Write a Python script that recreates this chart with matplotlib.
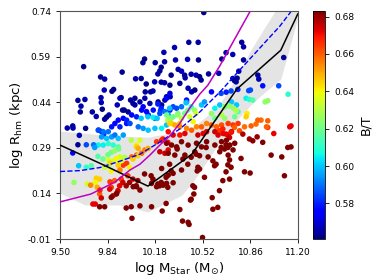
import matplotlib
matplotlib.use('Agg')
import matplotlib.pyplot as plt
import numpy as np

# ---- galaxy sample: (log Mstar, log Rhm, B/T) ----
navy = [
    (9.669, 0.557), (9.944, 0.539), (9.790, 0.523), (9.819, 0.516), (10.040, 0.517), (9.816, 0.480),
    (9.871, 0.476), (9.883, 0.482), (9.628, 0.446), (9.678, 0.449), (9.793, 0.455), (9.795, 0.439),
    (9.937, 0.455), (10.004, 0.447), (10.035, 0.453), (10.021, 0.436), (9.650, 0.427), (9.909, 0.431),
    (9.802, 0.417), (9.645, 0.408), (9.731, 0.408), (9.947, 0.414), (9.759, 0.393), (9.850, 0.398),
    (9.833, 0.391), (9.819, 0.384), (9.591, 0.362), (9.552, 0.355), (9.593, 0.355), (9.638, 0.331),
    (9.683, 0.354), (9.628, 0.300),
    (10.420, 0.637), (10.487, 0.637), (10.318, 0.620), (10.242, 0.604), (10.104, 0.582), (10.092, 0.570),
    (10.180, 0.570), (10.247, 0.573), (10.325, 0.579), (10.411, 0.581), (10.489, 0.579), (10.223, 0.555),
    (10.213, 0.543), (10.199, 0.533), (10.344, 0.548), (10.368, 0.542), (10.294, 0.529), (10.080, 0.518),
    (10.390, 0.529), (10.394, 0.520), (10.437, 0.532), (10.472, 0.529), (10.497, 0.524), (10.508, 0.513),
    (10.561, 0.533), (10.223, 0.506), (10.247, 0.504), (10.176, 0.507), (10.285, 0.496), (10.116, 0.500),
    (10.109, 0.474), (10.147, 0.474), (10.164, 0.477), (10.287, 0.458), (10.527, 0.735), (10.356, 0.502),
    (10.798, 0.637), (10.811, 0.622), (10.686, 0.603), (10.734, 0.597), (10.656, 0.582), (10.811, 0.579),
    (11.098, 0.587), (10.777, 0.542), (10.634, 0.535), (10.734, 0.518), (10.746, 0.511), (10.765, 0.519),
    (10.758, 0.507), (10.913, 0.529), (10.920, 0.516),
    (9.928, 0.453), (9.959, 0.414), (9.987, 0.408), (10.035, 0.431), (10.071, 0.441), (10.106, 0.453),
    (10.142, 0.436), (10.201, 0.441), (10.226, 0.431), (10.249, 0.447), (10.261, 0.458), (10.415, 0.486),
    (10.440, 0.474), (10.463, 0.480),
]
navy_bt = [0.562, 0.563, 0.564, 0.565, 0.566, 0.567]

blue = [
    (10.094, 0.425, 0.574), (10.166, 0.414, 0.578), (10.130, 0.398, 0.578), (9.916, 0.381, 0.576),
    (9.952, 0.387, 0.574), (9.976, 0.370, 0.578), (9.892, 0.370, 0.576), (9.869, 0.359, 0.578),
    (9.928, 0.359, 0.580), (9.776, 0.348, 0.578), (9.795, 0.344, 0.580), (9.812, 0.335, 0.582),
    (9.591, 0.273, 0.575), (10.285, 0.469, 0.572), (10.261, 0.453, 0.574), (10.404, 0.447, 0.575),
    (10.582, 0.474, 0.575), (10.308, 0.425, 0.585), (10.333, 0.420, 0.585), (10.285, 0.414, 0.580),
    (10.948, 0.494, 0.578), (11.062, 0.494, 0.585), (10.848, 0.478, 0.585), (10.860, 0.480, 0.585),
    (10.770, 0.482, 0.580), (10.722, 0.477, 0.585), (10.687, 0.473, 0.580), (10.651, 0.469, 0.585),
    (10.118, 0.409, 0.575), (10.083, 0.414, 0.575), (10.012, 0.398, 0.575), (10.047, 0.392, 0.580),
    (9.976, 0.381, 0.580), (10.368, 0.425, 0.590), (10.404, 0.441, 0.585), (10.199, 0.434, 0.580),
    (10.223, 0.420, 0.580), (10.218, 0.412, 0.582),
]

cyan_green = [
    (10.178, 0.387, 0.590), (10.213, 0.403, 0.585), (10.249, 0.409, 0.590), (10.273, 0.398, 0.595),
    (10.000, 0.370, 0.585), (10.059, 0.359, 0.590), (10.094, 0.354, 0.595), (10.130, 0.348, 0.600),
    (10.178, 0.354, 0.600), (10.226, 0.354, 0.605), (10.261, 0.365, 0.600), (9.773, 0.348, 0.585),
    (9.809, 0.343, 0.590), (9.845, 0.343, 0.590), (9.797, 0.326, 0.595), (9.833, 0.321, 0.600),
    (9.869, 0.326, 0.595), (9.892, 0.332, 0.590), (9.916, 0.321, 0.600), (9.952, 0.332, 0.595),
    (9.773, 0.299, 0.605), (9.809, 0.299, 0.605), (9.845, 0.304, 0.610), (9.880, 0.299, 0.610),
    (9.916, 0.293, 0.615), (9.633, 0.231, 0.600), (9.688, 0.300, 0.585), (9.740, 0.300, 0.590),
    (9.748, 0.291, 0.595), (10.080, 0.387, 0.600), (10.128, 0.392, 0.600), (10.164, 0.390, 0.605),
    (10.194, 0.387, 0.600), (10.283, 0.420, 0.600), (10.401, 0.438, 0.600), (10.437, 0.425, 0.610),
    (10.294, 0.387, 0.620), (10.461, 0.414, 0.625), (10.390, 0.403, 0.620), (10.342, 0.403, 0.620),
    (10.270, 0.381, 0.630), (10.413, 0.414, 0.620), (10.472, 0.403, 0.635), (10.511, 0.431, 0.600),
    (10.532, 0.441, 0.595), (10.606, 0.420, 0.605), (10.641, 0.431, 0.600), (10.677, 0.425, 0.605),
    (10.725, 0.441, 0.600), (10.761, 0.431, 0.600), (10.261, 0.398, 0.620), (10.285, 0.387, 0.625),
    (10.308, 0.392, 0.620), (10.342, 0.398, 0.625), (10.368, 0.387, 0.630), (10.427, 0.392, 0.635),
    (10.451, 0.376, 0.640), (10.582, 0.403, 0.625), (10.606, 0.387, 0.620), (10.654, 0.398, 0.630),
    (10.677, 0.387, 0.625), (10.748, 0.392, 0.620), (10.772, 0.409, 0.615), (10.829, 0.453, 0.605),
    (10.853, 0.449, 0.610), (10.877, 0.447, 0.615), (10.965, 0.441, 0.625), (10.984, 0.445, 0.625),
    (11.129, 0.466, 0.610), (10.675, 0.425, 0.625), (10.711, 0.427, 0.625), (10.741, 0.420, 0.625),
    (10.758, 0.412, 0.630), (9.771, 0.262, 0.615), (9.807, 0.253, 0.620), (9.842, 0.267, 0.620),
    (9.866, 0.275, 0.620), (9.890, 0.280, 0.625), (9.919, 0.286, 0.620), (9.688, 0.226, 0.610),
    (9.723, 0.231, 0.615), (9.600, 0.176, 0.625), (10.009, 0.315, 0.630), (10.071, 0.315, 0.635),
    (9.845, 0.250, 0.635), (9.869, 0.244, 0.635), (9.892, 0.250, 0.635),
]

yellow_orange = [
    (10.283, 0.370, 0.645), (10.354, 0.370, 0.645), (10.297, 0.370, 0.645), (10.320, 0.365, 0.650),
    (10.356, 0.359, 0.655), (10.404, 0.354, 0.655), (10.440, 0.348, 0.660), (10.475, 0.359, 0.655),
    (10.511, 0.359, 0.660), (10.547, 0.370, 0.655), (10.582, 0.365, 0.660), (10.618, 0.359, 0.660),
    (10.654, 0.365, 0.662), (10.701, 0.370, 0.665), (10.736, 0.365, 0.665), (10.772, 0.370, 0.665),
    (10.047, 0.299, 0.640), (9.928, 0.260, 0.635), (9.905, 0.255, 0.640), (10.047, 0.293, 0.645),
    (10.059, 0.288, 0.650), (10.106, 0.283, 0.655), (10.130, 0.288, 0.650), (10.012, 0.260, 0.660),
    (10.047, 0.266, 0.660), (10.083, 0.272, 0.658), (9.952, 0.233, 0.665), (9.976, 0.239, 0.665),
    (10.190, 0.310, 0.665), (10.226, 0.315, 0.668), (9.821, 0.228, 0.650), (9.857, 0.239, 0.645),
    (9.695, 0.171, 0.635), (9.759, 0.190, 0.645), (9.783, 0.187, 0.645), (9.752, 0.176, 0.640),
    (9.766, 0.160, 0.650), (9.819, 0.226, 0.635), (9.842, 0.231, 0.630), (9.866, 0.214, 0.640),
    (9.926, 0.214, 0.645), (9.937, 0.247, 0.635), (9.962, 0.259, 0.630), (9.997, 0.226, 0.640),
    (10.021, 0.253, 0.645), (10.056, 0.264, 0.645), (9.719, 0.167, 0.655), (9.783, 0.138, 0.660),
    (9.866, 0.160, 0.665), (9.890, 0.182, 0.660), (9.937, 0.187, 0.665), (9.985, 0.198, 0.665),
    (9.916, 0.233, 0.645), (9.928, 0.217, 0.655), (10.235, 0.319, 0.668), (10.746, 0.357, 0.660),
    (10.782, 0.346, 0.662), (10.818, 0.359, 0.658), (10.865, 0.362, 0.660), (10.900, 0.368, 0.658),
    (10.984, 0.357, 0.665), (10.836, 0.403, 0.642), (10.829, 0.392, 0.645), (10.936, 0.381, 0.658),
    (10.913, 0.381, 0.660), (10.984, 0.379, 0.660), (10.975, 0.359, 0.660), (10.639, 0.346, 0.665),
    (10.663, 0.352, 0.668),
]

red = [
    (10.273, 0.343, 0.670), (10.308, 0.332, 0.672), (10.356, 0.332, 0.670), (10.392, 0.337, 0.672),
    (10.485, 0.332, 0.675), (10.522, 0.337, 0.672), (10.547, 0.343, 0.672), (10.606, 0.343, 0.675),
    (10.629, 0.332, 0.673), (10.665, 0.337, 0.672), (10.701, 0.332, 0.675), (10.725, 0.343, 0.674),
    (10.213, 0.277, 0.675), (10.249, 0.272, 0.675), (10.273, 0.283, 0.672), (10.270, 0.308, 0.670),
    (9.735, 0.105, 0.672), (9.752, 0.105, 0.672), (9.795, 0.125, 0.675), (9.855, 0.154, 0.672),
    (9.878, 0.132, 0.678), (9.902, 0.138, 0.680), (9.914, 0.149, 0.675), (9.926, 0.165, 0.672),
    (9.949, 0.176, 0.675), (9.973, 0.165, 0.680), (9.997, 0.176, 0.680), (10.021, 0.187, 0.675),
    (10.044, 0.165, 0.683), (10.056, 0.182, 0.680), (9.785, 0.151, 0.668), (9.857, 0.178, 0.665),
    (10.686, 0.335, 0.672), (10.711, 0.324, 0.675), (10.722, 0.341, 0.670), (11.027, 0.337, 0.672),
    (11.150, 0.362, 0.672), (11.141, 0.359, 0.672), (10.806, 0.335, 0.678), (10.853, 0.319, 0.680),
    (10.877, 0.313, 0.682), (10.908, 0.326, 0.680), (10.948, 0.308, 0.683),
]

maroon = [
    (10.261, 0.305), (10.297, 0.299), (10.333, 0.293), (10.368, 0.310), (10.415, 0.299), (10.475, 0.305),
    (10.511, 0.293), (10.547, 0.310), (10.606, 0.299), (10.654, 0.310), (10.689, 0.315), (10.713, 0.299),
    (10.748, 0.305), (10.273, 0.272), (10.320, 0.266), (10.392, 0.266), (10.463, 0.277), (10.558, 0.260),
    (10.641, 0.277), (10.701, 0.266), (10.736, 0.283), (10.226, 0.222),
    (9.783, 0.096), (9.819, 0.096), (9.973, 0.092), (10.009, 0.096), (10.014, 0.058), (9.866, 0.127),
    (9.905, 0.140), (10.023, 0.162), (10.047, 0.162), (10.071, 0.151), (10.154, 0.173), (10.190, 0.162),
    (10.237, 0.167), (10.261, 0.173), (10.308, 0.175), (10.273, 0.200), (10.308, 0.206), (10.368, 0.217),
    (10.154, 0.096), (10.230, 0.082), (10.356, 0.087), (10.375, 0.049), (10.415, 0.045),
    (10.104, 0.204), (10.151, 0.198), (10.164, 0.187), (10.199, 0.171), (10.223, 0.176), (10.211, 0.165),
    (10.283, 0.236), (10.294, 0.214), (10.258, 0.193), (10.270, 0.160), (10.337, 0.286), (10.378, 0.253),
    (10.413, 0.236), (10.437, 0.259), (10.472, 0.269), (10.497, 0.264), (10.485, 0.226), (10.497, 0.220),
    (10.480, 0.214), (10.532, 0.193), (10.544, 0.291), (10.592, 0.247), (10.604, 0.231), (10.615, 0.236),
    (10.449, 0.165), (10.461, 0.160), (10.456, 0.138), (10.437, 0.121), (10.258, 0.107), (10.071, 0.099),
    (10.422, 0.038), (10.592, 0.088), (10.627, 0.094), (10.518, -0.005),
    (10.651, 0.291), (10.675, 0.286), (10.699, 0.291), (10.686, 0.300), (10.793, 0.255), (10.711, 0.250),
    (10.699, 0.234), (10.722, 0.226), (10.686, 0.211), (10.663, 0.182), (10.711, 0.187), (10.818, 0.211),
    (10.858, 0.207), (11.008, 0.266), (11.084, 0.260), (11.127, 0.291), (11.150, 0.293), (11.103, 0.198),
    (10.639, 0.149), (10.587, 0.126), (10.432, 0.118),
]
maroon_bt = 0.686

# ---- running median and spread ----
med_x = [9.50, 9.814, 10.128, 10.442, 10.763, 11.077, 11.198]
med_y = [0.299, 0.233, 0.164, 0.269, 0.483, 0.611, 0.730]

band_x = [9.50, 9.678, 9.814, 9.928, 10.128, 10.370, 10.449, 10.627, 10.763, 10.863, 10.963, 11.077, 11.198]
band_lo = [0.141, 0.102, 0.102, 0.102, 0.079, 0.134, 0.177, 0.299, 0.381, 0.431, 0.473, 0.516, 0.717]
band_hi = [0.345, 0.338, 0.332, 0.329, 0.325, 0.345, 0.358, 0.424, 0.523, 0.612, 0.687, 0.769, 0.858]

# ---- fitted relation (blue dashed) ----
fit_x = [9.50, 9.643, 9.785, 9.928, 10.071, 10.213, 10.356, 10.499, 10.641, 10.784, 10.927, 11.070, 11.148]
fit_y = [0.212, 0.215, 0.225, 0.246, 0.269, 0.309, 0.352, 0.408, 0.473, 0.546, 0.618, 0.690, 0.737]

# ---- comparison relation (magenta) ----
rel_x = [9.50, 9.721, 9.892, 10.0, 10.071, 10.142, 10.213, 10.285, 10.356, 10.427, 10.499, 10.556, 10.641, 10.748, 10.863]
rel_y = [0.112, 0.138, 0.177, 0.217, 0.236, 0.266, 0.299, 0.329, 0.371, 0.421, 0.467, 0.496, 0.559, 0.648, 0.743]

xticks = [9.50, 9.84, 10.18, 10.52, 10.86, 11.20]
yticks = [-0.01, 0.14, 0.29, 0.44, 0.59, 0.74]
cticks = [0.58, 0.60, 0.62, 0.64, 0.66, 0.68]

# collect everything
xs, ys, cs = [], [], []
for i, (a, b) in enumerate(navy):
    xs.append(a); ys.append(b); cs.append(navy_bt[i % len(navy_bt)])
for group in (blue, cyan_green, yellow_orange, red):
    for a, b, c in group:
        xs.append(a); ys.append(b); cs.append(c)
for a, b in maroon:
    xs.append(a); ys.append(b); cs.append(maroon_bt)

fig = plt.figure(figsize=(3.74, 2.80), dpi=100)
ax = fig.add_axes([0.1604, 0.1464, 0.6364, 0.8143])
cax = fig.add_axes([0.8369, 0.1464, 0.0321, 0.8143])

ax.fill_between(band_x, band_lo, band_hi, color='lightgray', alpha=0.6, lw=0, zorder=0)
sc = ax.scatter(xs, ys, c=cs, cmap='jet', vmin=0.561, vmax=0.683, s=16, linewidths=0, zorder=2)
ax.plot(med_x, med_y, color='k', lw=1.1, zorder=3)
ax.plot(fit_x, fit_y, color='b', ls='--', lw=1.0, zorder=3)
ax.plot(rel_x, rel_y, color='m', lw=1.1, zorder=3)

ax.set_xlim(9.50, 11.20)
ax.set_ylim(-0.01, 0.74)
ax.set_xticks(xticks)
ax.set_yticks(yticks)
ax.set_xticklabels(['%.2f' % t for t in xticks])
ax.set_yticklabels(['%.2f' % t for t in yticks])
ax.tick_params(labelsize=6.5, length=3, width=0.6)
for s in ax.spines.values():
    s.set_color('#555555')
    s.set_linewidth(0.8)
ax.set_xlabel(r'log M$_{\rm Star}$ (M$_{\odot}$)', fontsize=9.5, labelpad=2)
ax.set_ylabel(r'log R$_{\rm hm}$ (kpc)', fontsize=9.5, labelpad=2)

cb = fig.colorbar(sc, cax=cax, ticks=cticks)
cb.ax.set_yticklabels(['%.2f' % t for t in cticks])
cb.ax.tick_params(labelsize=6.5, length=3, width=0.6)
cb.set_label('B/T', fontsize=9)
cb.outline.set_linewidth(0.6)

fig.savefig('out.png', dpi=100)
